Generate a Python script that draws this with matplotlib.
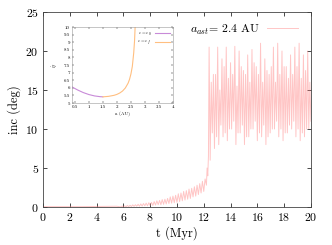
import matplotlib
matplotlib.use("Agg")
import matplotlib.pyplot as plt

plt.rcParams['font.family'] = 'cmr10'
plt.rcParams['mathtext.fontset'] = 'cm'
plt.rcParams['axes.formatter.use_mathtext'] = True

# quiet phase, inc ~ 0
quiet_t = [0.0, 1.0, 2.0, 3.0, 4.0, 5.0, 5.5]
quiet_inc = [0.05, 0.05, 0.06, 0.05, 0.07, 0.08, 0.10]

# slow growth phase, alternating low/high of the wiggle band
grow_t = [5.8, 5.9, 6.0, 6.1, 6.2, 6.3, 6.4, 6.5, 6.6, 6.7, 6.8, 6.9, 7.0, 7.1, 7.2, 7.3,
          7.4, 7.5, 7.6, 7.7, 7.8, 7.9, 8.0, 8.1, 8.2, 8.3, 8.4, 8.5, 8.6, 8.7, 8.8, 8.9,
          9.0, 9.1, 9.2, 9.3, 9.4, 9.5, 9.6, 9.7, 9.8, 9.9, 10.0, 10.1, 10.2, 10.3, 10.4, 10.5,
          10.6, 10.7, 10.8, 10.9, 11.0, 11.1, 11.2, 11.3, 11.4, 11.5, 11.6, 11.7, 11.8, 11.9,
          12.0, 12.1, 12.2, 12.25, 12.3, 12.35]
grow_inc = [0.02, 0.12, 0.03, 0.15, 0.04, 0.2, 0.05, 0.22, 0.06, 0.28, 0.08, 0.3, 0.1, 0.35, 0.1, 0.4,
            0.12, 0.45, 0.15, 0.5, 0.15, 0.55, 0.2, 0.6, 0.2, 0.7, 0.25, 0.8, 0.3, 0.85, 0.3, 0.95,
            0.35, 1.0, 0.4, 1.1, 0.45, 1.3, 0.5, 1.4, 0.55, 1.5, 0.6, 1.7, 0.7, 1.8, 0.8, 2.0,
            0.9, 2.1, 1.0, 2.3, 1.1, 2.4, 1.3, 2.6, 1.4, 2.8, 1.6, 3.0, 1.8, 3.3,
            2.0, 3.6, 2.8, 5.0, 4.0, 6.5]

# chaotic phase after the jump: each cycle is peak, trough, mid, trough
osc_t = [12.40, 12.48, 12.56, 12.64, 12.72, 12.80, 12.88, 12.96, 13.04, 13.12, 13.20, 13.28,
         13.36, 13.44, 13.52, 13.60, 13.68, 13.76, 13.84, 13.92, 14.00, 14.08, 14.16, 14.24,
         14.32, 14.40, 14.48, 14.56, 14.64, 14.72, 14.80, 14.88, 14.96, 15.04, 15.12, 15.20,
         15.28, 15.36, 15.44, 15.52, 15.60, 15.68, 15.76, 15.84, 15.92, 16.00, 16.08, 16.16,
         16.24, 16.32, 16.40, 16.48, 16.56, 16.64, 16.72, 16.80, 16.88, 16.96, 17.04, 17.12,
         17.20, 17.28, 17.36, 17.44, 17.52, 17.60, 17.68, 17.76, 17.84, 17.92, 18.00, 18.08,
         18.16, 18.24, 18.32, 18.40, 18.48, 18.56, 18.64, 18.72, 18.80, 18.88, 18.96, 19.04,
         19.12, 19.20, 19.28, 19.36, 19.44, 19.52, 19.60, 19.68, 19.76, 19.84, 19.92, 20.00]
osc_peak = [20.5, 17.0, 20.5, 19.0, 20.5, 18.5, 20.6, 20.0, 17.5, 19.5, 20.2, 18.0,
            21.0, 19.0, 17.0, 20.5, 21.0, 20.0, 18.0, 19.5, 20.5, 21.0, 19.5, 20.0]
osc_low1 = [6.0, 7.5, 8.0, 9.0, 8.5, 10.0, 8.0, 9.5, 8.0, 9.0, 10.0, 8.5,
            9.0, 8.0, 9.5, 10.0, 9.0, 8.5, 9.5, 10.0, 9.0, 8.5, 9.0, 10.0]
osc_mid = [16.0, 17.0, 15.0, 18.0, 16.5, 17.0, 15.5, 18.0, 17.0, 16.0, 18.5, 17.0,
           16.0, 17.5, 18.0, 16.0, 17.0, 18.0, 16.5, 17.0, 18.0, 16.5, 17.5, 16.0]
osc_low2 = [9.5, 9.0, 10.5, 9.5, 10.0, 11.0, 9.5, 10.5, 9.0, 10.0, 11.0, 9.5,
            10.5, 9.0, 10.0, 11.0, 10.0, 9.5, 10.5, 11.0, 10.0, 9.5, 10.0, 11.0]

# inset curves
in_a1 = [0.4, 0.6, 0.8, 1.0, 1.2, 1.4, 1.5]
in_i1 = [6.05, 5.85, 5.68, 5.55, 5.46, 5.41, 5.40]
in_a2 = [1.5, 1.7, 1.9, 2.0, 2.1, 2.2, 2.3, 2.4, 2.45, 2.5, 2.55, 2.6, 2.63, 2.65]
in_i2 = [5.40, 5.43, 5.50, 5.56, 5.65, 5.78, 5.98, 6.3, 6.55, 6.9, 7.4, 8.3, 9.1, 10.0]

osc_inc = []
for p, l1, m, l2 in zip(osc_peak, osc_low1, osc_mid, osc_low2):
    osc_inc += [p, l1, m, l2]

t = quiet_t + grow_t + osc_t
inc = quiet_inc + grow_inc + osc_inc

fig = plt.figure(figsize=(3.32, 2.45), dpi=100)
ax = fig.add_axes([0.1295, 0.155, 0.807, 0.796])
ax.plot(t, inc, color=(1.0, 0.5, 0.5), alpha=0.45, lw=0.7, label=r'$a_{ast}$= 2.4 AU')
ax.set_xlim(0, 20)
ax.set_ylim(0, 25)
ax.set_xticks(range(0, 21, 2))
ax.set_yticks(range(0, 26, 5))
ax.tick_params(direction='in', top=True, right=True, labelsize=8.5, length=3, width=0.5, pad=3)
for s in ax.spines.values():
    s.set_color('#444444')
    s.set_linewidth(0.6)
ax.set_xlabel('t (Myr)', fontsize=9, labelpad=2)
ax.set_ylabel('inc (deg)', fontsize=9, labelpad=3)
ax.legend(loc='upper right', bbox_to_anchor=(0.99, 1.0), frameon=False, fontsize=8.5,
          handlelength=2.6, markerfirst=False, handletextpad=0.6)

ins = fig.add_axes([0.217, 0.58, 0.304, 0.31])
ins.plot(in_a1, in_i1, color='#c88ad8', lw=0.8, label=r'$e = e_0$')
ins.plot(in_a2, in_i2, color='#ffbf80', lw=0.8, label=r'$e = e_f$')
ins.set_xlim(0.4, 4)
ins.set_ylim(5, 10)
ins.set_xticks([0.5, 1, 1.5, 2, 2.5, 3, 3.5, 4])
ins.set_xticklabels(['0.5', '1', '1.5', '2', '2.5', '3', '3.5', '4'])
ins.set_yticks([5, 5.5, 6, 6.5, 7, 7.5, 8, 8.5, 9, 9.5, 10])
ins.set_yticklabels(['5', '5.5', '6', '6.5', '7', '7.5', '8', '8.5', '9', '9.5', '10'])
ins.tick_params(direction='in', top=True, right=True, labelsize=3.5, length=1.5, width=0.3, pad=1.5)
for s in ins.spines.values():
    s.set_color('#999999')
    s.set_linewidth(0.4)
ins.set_xlabel('a (AU)', fontsize=3.5, labelpad=1)
ins.set_ylabel(r'$i_f$', fontsize=4, labelpad=2)
ins.legend(loc='upper right', frameon=False, fontsize=3.5, handlelength=3,
           borderaxespad=0.3, labelspacing=0.3, markerfirst=False)

fig.savefig('out.png', dpi=100)
